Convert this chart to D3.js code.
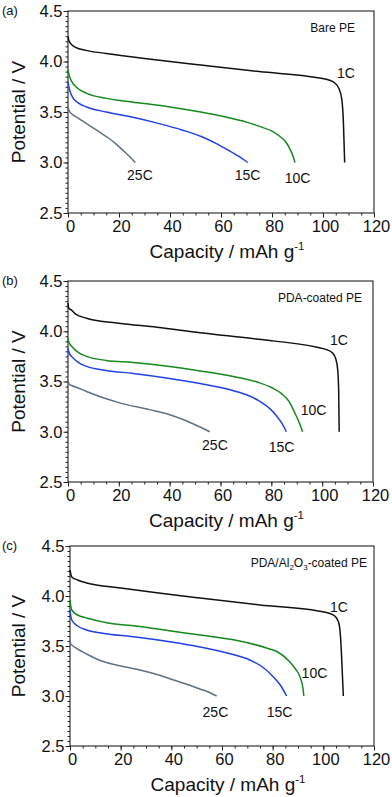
<!DOCTYPE html>
<html>
<head>
<meta charset="utf-8">
<script src="https://cdn.jsdelivr.net/npm/d3@7"></script>
<style>
  body { margin: 0; background: #fff; }
  svg text { font-family: "Liberation Sans", Arial, sans-serif; }
</style>
</head>
<body>
<div id="chart"></div>
<script>
// ---- data: [capacity mAh/g, potential V] ----
const rates = ["1C", "10C", "15C", "25C"];

const bare1C  = [[0,4.25],[0.3,4.21],[1,4.18],[3,4.14],[7,4.11],[15,4.08],[30,4.03],[52,3.965],[75,3.90],[98,3.84],[102,3.82],[104.5,3.79],[106.3,3.73],[107.4,3.62],[108,3.4],[108.5,3.0]];
const bare10C = [[0,3.92],[0.5,3.86],[1.5,3.80],[4,3.73],[7.3,3.685],[15,3.635],[25,3.60],[40,3.55],[52,3.50],[62,3.45],[70,3.40],[76,3.35],[80,3.31],[83,3.26],[85.5,3.20],[87.3,3.12],[88.3,3.06],[89,3.0]];
const bare15C = [[0,3.80],[0.5,3.73],[1.5,3.66],[4,3.59],[7.3,3.55],[15,3.50],[25,3.45],[35,3.39],[45,3.32],[52,3.26],[58,3.19],[63,3.12],[67,3.06],[70.5,3.0]];
const bare25C = [[0,3.55],[0.5,3.51],[1.5,3.48],[4,3.44],[7,3.39],[10,3.34],[13,3.29],[16,3.24],[19,3.18],[22,3.11],[24.5,3.05],[26.4,3.0]];

const pda1C  = [[0,4.28],[0.3,4.23],[1.4,4.21],[3,4.17],[7.3,4.13],[20,4.08],[35,4.04],[52,3.985],[75,3.92],[98,3.84],[102,3.815],[104,3.785],[105.3,3.73],[106.1,3.62],[106.5,3.4],[106.7,3.0]];
const pda10C = [[0,3.93],[0.5,3.88],[1.4,3.85],[4,3.79],[7.3,3.75],[15,3.71],[25.7,3.69],[40,3.65],[52,3.605],[65,3.55],[75,3.49],[80,3.44],[84,3.38],[87,3.30],[89,3.20],[91,3.09],[92.3,3.0]];
const pda15C = [[0,3.83],[0.5,3.78],[1.4,3.75],[4,3.69],[7.3,3.65],[15,3.61],[25.7,3.58],[40,3.53],[52,3.48],[63.5,3.42],[70,3.37],[75,3.31],[79.4,3.23],[82,3.16],[84,3.09],[85.9,3.0]];
const pda25C = [[0,3.51],[0.5,3.47],[1.4,3.46],[4,3.435],[7.3,3.40],[13,3.345],[20,3.29],[32,3.22],[40,3.17],[45.5,3.12],[50,3.07],[55.8,3.0]];

const al1C  = [[0,4.26],[0.3,4.22],[0.7,4.19],[3,4.16],[6.6,4.13],[20,4.08],[35,4.03],[51.3,3.98],[75,3.91],[98,3.85],[102,3.83],[104.5,3.80],[106,3.74],[106.7,3.62],[107.2,3.4],[107.9,3.0]];
const al10C = [[0,3.96],[0.3,3.90],[0.7,3.86],[3,3.81],[6.6,3.78],[15,3.73],[25.9,3.70],[40,3.65],[51.3,3.61],[65,3.56],[77.6,3.48],[82,3.44],[86.8,3.34],[89,3.27],[90.8,3.19],[92,3.07],[92.3,3.0]];
const al15C = [[0,3.86],[0.3,3.80],[0.7,3.76],[3,3.70],[6.6,3.66],[15,3.62],[25.9,3.59],[40,3.54],[51.3,3.49],[62,3.43],[71,3.36],[76,3.29],[80.3,3.19],[83,3.11],[85.5,3.0]];
const al25C = [[0,3.56],[0.3,3.52],[0.7,3.51],[3,3.47],[6.6,3.42],[10.5,3.37],[15,3.33],[20,3.30],[27.6,3.26],[35,3.21],[40.9,3.16],[47,3.11],[51.3,3.07],[55,3.035],[57.9,3.0]];

const xTicks = [0, 20, 40, 60, 80, 100, 120];
const yTicks = [2.5, 3.0, 3.5, 4.0, 4.5];

// ---- layout ----
const W = 392, H = 797;
const FONT = "'Liberation Sans', Arial, sans-serif";
const colors = {"1C": "#111111", "10C": "#14891c", "15C": "#1e42e4", "25C": "#607183"};

const panels = [
  { tag: "(a)", title: "Bare PE", box: {l: 68, r: 374, t: 11, b: 213}, titleX: 355,
    curves: [bare1C, bare10C, bare15C, bare25C],
    labelAt: {"1C": [109, 3.84], "10C": [90, 2.80], "15C": [70.4, 2.83], "25C": [28.2, 2.83]} },
  { tag: "(b)", title: "PDA-coated PE", box: {l: 68, r: 373, t: 281, b: 482}, titleX: 362,
    curves: [pda1C, pda10C, pda15C, pda25C],
    labelAt: {"1C": [106.6, 3.86], "10C": [96.6, 3.17], "15C": [84, 2.80], "25C": [57.8, 2.82]} },
  { tag: "(c)", title: "PDA/Al2O3-coated PE", box: {l: 70, r: 374, t: 546, b: 746}, titleX: 367,
    curves: [al1C, al10C, al15C, al25C],
    labelAt: {"1C": [106.2, 3.84], "10C": [96.5, 3.18], "15C": [82.7, 2.79], "25C": [57.4, 2.79]} }
];

const svg = d3.select("#chart").append("svg")
  .attr("width", W).attr("height", H)
  .attr("font-family", FONT);

panels.forEach(p => {
  const b = p.box;
  const x = d3.scaleLinear().domain([0, 120]).range([b.l, b.r]);
  const y = d3.scaleLinear().domain([2.5, 4.5]).range([b.b, b.t]);
  const g = svg.append("g");

  // minor ticks
  g.append("g")
    .attr("transform", `translate(0,${b.b})`)
    .call(d3.axisBottom(x).tickValues(d3.range(0, 121, 5)).tickSize(2.5).tickFormat(""))
    .call(s => s.select(".domain").remove());
  g.append("g")
    .attr("transform", `translate(${b.l},0)`)
    .call(d3.axisLeft(y).tickValues(d3.range(0, 41).map(i => 2.5 + i * 0.05)).tickSize(2.5).tickFormat(""))
    .call(s => s.select(".domain").remove());

  // major ticks + labels
  const ax = g.append("g")
    .attr("transform", `translate(0,${b.b})`)
    .call(d3.axisBottom(x).tickValues(xTicks).tickSize(4.5).tickPadding(3).tickFormat(d3.format("d")));
  ax.select(".domain").remove();
  ax.attr("font-family", FONT);
  ax.selectAll("text").attr("font-size", 16.5).attr("fill", "#111").attr("dx", 2);

  const ay = g.append("g")
    .attr("transform", `translate(${b.l},0)`)
    .call(d3.axisLeft(y).tickValues(yTicks).tickSize(4.5).tickPadding(1).tickFormat(d3.format(".1f")));
  ay.select(".domain").remove();
  ay.attr("font-family", FONT);
  ay.selectAll("text").attr("font-size", 16.5).attr("fill", "#111");

  g.selectAll(".tick line").attr("stroke", "#222");

  // frame
  g.append("rect")
    .attr("x", b.l).attr("y", b.t)
    .attr("width", b.r - b.l).attr("height", b.b - b.t)
    .attr("fill", "none").attr("stroke", "#222").attr("stroke-width", 1.1);

  // curves
  const line = d3.line()
    .x(d => x(d[0])).y(d => y(d[1]))
    .curve(d3.curveMonotoneX);
  p.curves.forEach((c, i) => {
    g.append("path")
      .datum(c)
      .attr("d", line)
      .attr("fill", "none")
      .attr("stroke", colors[rates[i]])
      .attr("stroke-width", 1.5);
  });

  // curve labels
  rates.forEach(r => {
    const pos = p.labelAt[r];
    g.append("text")
      .attr("x", x(pos[0])).attr("y", y(pos[1]))
      .attr("text-anchor", "middle")
      .attr("font-size", 14).attr("fill", "#111")
      .text(r);
  });

  // sample title (top right)
  const t = g.append("text")
    .attr("x", p.titleX).attr("y", b.t + 21)
    .attr("text-anchor", "end")
    .attr("font-size", 12).attr("fill", "#111");
  if (p.title === "PDA/Al2O3-coated PE") {
    t.append("tspan").text("PDA/Al");
    t.append("tspan").attr("font-size", 8).attr("dy", 3).text("2");
    t.append("tspan").attr("dy", -3).text("O");
    t.append("tspan").attr("font-size", 8).attr("dy", 3).text("3");
    t.append("tspan").attr("dy", -3).text("-coated PE");
  } else {
    t.text(p.title);
  }

  // panel tag
  g.append("text")
    .attr("x", 2).attr("y", b.t + 4)
    .attr("font-size", 13).attr("fill", "#111")
    .text(p.tag);

  // axis titles
  const xt = g.append("text")
    .attr("x", (b.l + b.r) / 2 + 6).attr("y", b.b + 45)
    .attr("text-anchor", "middle")
    .attr("font-size", 19).attr("fill", "#111");
  xt.append("tspan").text("Capacity / mAh g");
  xt.append("tspan").attr("font-size", 11.5).attr("dy", -8).text("-1");

  g.append("text")
    .attr("transform", `translate(25,${(b.t + b.b) / 2}) rotate(-90)`)
    .attr("text-anchor", "middle")
    .attr("font-size", 19).attr("fill", "#111")
    .text("Potential / V");
});
</script>
</body>
</html>
